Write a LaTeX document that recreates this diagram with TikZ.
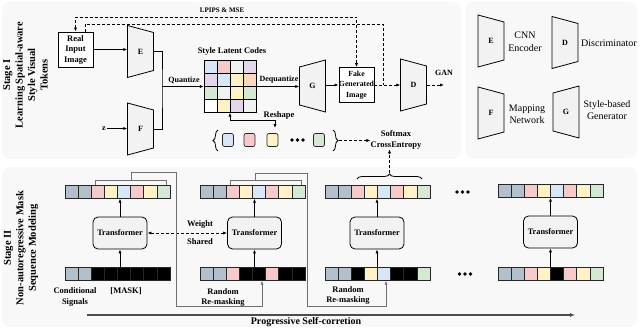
\documentclass[tikz,border=0pt]{standalone}
\usepackage{fontspec}
\setmainfont{Liberation Serif}
\usetikzlibrary{arrows.meta,decorations.pathreplacing,calc}
\definecolor{panelc}{HTML}{F8F8F8}
\definecolor{trapc}{HTML}{F2F2F2}
\definecolor{gb}{HTML}{B3BFCB}
\definecolor{pk}{HTML}{F6CACA}
\definecolor{yl}{HTML}{FFF1C8}
\definecolor{bl}{HTML}{D8E7F8}
\definecolor{gr}{HTML}{D5E8D4}
\definecolor{pu}{HTML}{E3D6EB}
\definecolor{pe}{HTML}{F9D8BE}
\definecolor{lg}{HTML}{F1F1F1}
\definecolor{wh}{HTML}{FFFFFF}
\definecolor{bk}{HTML}{000000}
\definecolor{lineg}{HTML}{707070}
\newcommand\trapTL[4]{%
  \filldraw[trapsty] ({#2-13},{#3-26}) -- ({#2+13},{#3-19}) -- ({#2+13},{#3+19}) -- ({#2-13},{#3+26}) -- cycle;
  \node[trapnode] (#1) at (#2,#3) {#4};}
\newcommand\trapTR[4]{%
  \filldraw[trapsty] ({#2-13},{#3-19}) -- ({#2+13},{#3-26}) -- ({#2+13},{#3+26}) -- ({#2-13},{#3+19}) -- cycle;
  \node[trapnode] (#1) at (#2,#3) {#4};}
\newcommand\tokrow[4]{%
  \node[rowbox] (#1) at (#2,#3) {};
  \foreach \cc [count=\i from 0] in {#4}{\filldraw[cellsty, fill=\cc] ({#2-52.5+13.125*\i},{#3-6.5}) rectangle ++(13.125,13);}}
\begin{document}
\begin{tikzpicture}[x=1pt,y=-1pt,
  panel/.style={fill=panelc, draw=none, rounded corners=8pt},
  trapsty/.style={fill=trapc, draw=black, line width=0.8pt},
  trapnode/.style={minimum width=26pt, minimum height=38pt, inner sep=0pt, font=\fontsize{8}{9}\selectfont\bfseries},
  lbl/.style={font=\fontsize{8.5}{10.5}\selectfont\bfseries, inner sep=0pt, align=center},
  slbl/.style={font=\fontsize{7}{8}\selectfont\bfseries, inner sep=0pt},
  stagelbl/.style={font=\fontsize{10.5}{12.5}\selectfont\bfseries, rotate=90, align=center, inner sep=0pt},
  legtxt/.style={font=\fontsize{10}{12.5}\selectfont, align=center, inner sep=0pt},
  imgbox/.style={draw, fill=white, line width=0.8pt, minimum width=35pt, minimum height=35pt, inner sep=0pt, align=center, font=\fontsize{7.8}{10.5}\selectfont\bfseries},
  tfbox/.style={draw, line width=0.8pt, rounded corners=5pt, fill=trapc, minimum width=54pt, minimum height=32pt, inner sep=0pt, font=\fontsize{8.3}{9}\selectfont\bfseries},
  rowbox/.style={minimum width=105pt, minimum height=13pt, inner sep=0pt},
  cellsty/.style={draw=black!85, line width=0.7pt},
  arr/.style={-{Latex[length=4pt,width=3.2pt]}, line width=0.8pt},
  darr/.style={arr, dash pattern=on 3pt off 2pt},
  dline/.style={line width=0.8pt, dash pattern=on 3pt off 2pt},
  gline/.style={draw=lineg, line width=0.7pt},
  garr/.style={gline, -{Latex[length=4pt,width=3.2pt]}},
  brc/.style={decorate, line width=0.8pt},
  parr/.style={draw=black!70, line width=1.5pt, -{Latex[length=5pt,width=4pt]}}
]
\useasboundingbox (0,0) rectangle (640,329);
% panels
\fill[panel] (2,2) rectangle (461,159);
\fill[panel] (465,2) rectangle (637,158);
\fill[panel] (2,167) rectangle (637,327);

% ---------- Stage I ----------
\node[stagelbl] (s1) at (25.5,75) {Stage I\\Learning Spatial-aware\\Style Visual\\Tokens};
\node[imgbox, font=\fontsize{8.5}{10.5}\selectfont\bfseries] (real) at (75.5,49.5) {Real\\Input\\Image};
\trapTL{E}{140.5}{51.5}{E}
\trapTL{F}{140.5}{129}{F}
\node[font=\fontsize{8}{9}\selectfont\bfseries, inner sep=1pt] (z) at (104,128.5) {z};
\draw[arr] (real.east) -- (real.east -| E.west);
\draw[arr] (z.east) -- (z.east -| F.west);
\coordinate (jn) at (162,86.5);
\draw[line width=0.8pt] (E.east) -| (jn) |- (F.east);
% grid
\node[minimum size=52pt, inner sep=0pt] (grid) at (230,86.5) {};
\foreach \cc [count=\i from 0] in {bl,pk,lg,pu, pu,bl,yl,pe, gr,lg,yl,gr, wh,yl,pu,lg} {
  \pgfmathtruncatemacro\rr{int(\i/4)}
  \pgfmathtruncatemacro\kk{mod(\i,4)}
  \filldraw[draw=black, line width=0.8pt, fill=\cc] ({204+13*\kk},{60.5+13*\rr}) rectangle ++(13,13);
}
\node[lbl] (slc) at (232,51) {Style Latent Codes};
\draw[arr] (jn) -- (jn -| grid.west);
\node[lbl, font=\fontsize{8}{9}\selectfont\bfseries] (qz) at (184,80) {Quantize};
\trapTR{G}{312.5}{86}{G}
\draw[arr] (grid.east) -- (grid.east -| G.west);
\node[lbl, font=\fontsize{8}{9}\selectfont\bfseries] (dqz) at (279,80) {Dequantize};
\node[imgbox] (fake) at (356.5,85) {Fake\\Generated\\Image};
\draw[arr] (G.east |- fake.west) -- (fake.west);
\trapTL{D}{413.5}{85}{D}
\draw[darr] (fake.east) -- (D.west);
\coordinate (gan) at (444,85);
\draw[darr] (D.east) -- (gan);
\node[lbl, font=\fontsize{8}{9}\selectfont\bfseries] (ganl) at (444,73) {GAN};
% LPIPS
\coordinate (lpo) at (0,17);
\coordinate (lpi) at (0,24);
\coordinate (dj) at (383,85);
\draw[dline, {Latex[length=4pt,width=3.2pt]}-{Latex[length=4pt,width=3.2pt]}] (real.north) -- (real.north |- lpo) -| (fake.north);
\draw[dline] ([xshift=9.5pt]real.north) -- ([xshift=9.5pt]real.north |- lpi) -| (dj);
\node[slbl] (lp) at (222,10) {LPIPS \& MSE};
% reshape
\coordinate (rsE) at (275,128);
\draw[line width=0.8pt, {Latex[length=4pt,width=3.2pt]}-{Latex[length=4pt,width=3.2pt]}] (grid.south) -- (230,120) -- (275,120) -- (rsE);
\node[lbl] (rsl) at (279,115) {Reshape};
% sequence
\draw[brc, decoration={brace, amplitude=5pt}] (218,151) -- (218,130);
\filldraw[cellsty, fill=bl, rounded corners=2pt] (222.5,133.5) rectangle ++(11,13);
\filldraw[cellsty, fill=pk, rounded corners=2pt] (244,133.5) rectangle ++(11,13);
\filldraw[cellsty, fill=yl, rounded corners=2pt] (267,133.5) rectangle ++(11,13);
\foreach \xx in {292,297.5,303} \fill (\xx,140) circle (1.8pt);
\filldraw[cellsty, fill=gr, rounded corners=2pt] (313.5,133.5) rectangle ++(11,13);
\draw[brc, decoration={brace, amplitude=5pt}] (333,130) -- (333,151);
\coordinate (rb) at (339,140.5);
\node[lbl] (ce) at (396,140) {Softmax\\CrossEntropy};
\draw[darr] (rb) -- (rb -| ce.west);

% ---------- Legend ----------
\trapTL{LE}{491}{41}{E}
\node[legtxt] (le) at (525,41.5) {CNN\\Encoder};
\trapTL{LD}{565}{42.5}{D}
\node[legtxt] (ld) at (609,43) {Discriminator};
\trapTL{LF}{491}{113}{F}
\node[legtxt] (lf) at (527,114) {Mapping\\Network};
\trapTR{LG}{566}{112}{G}
\node[legtxt] (lgn) at (607,110) {Style-based\\Generator};

% ---------- Stage II ----------
\node[stagelbl] (s2) at (21,248) {Stage II\\Non-autoregressive Mask\\Sequence Modeling};
\tokrow{r1t}{117.5}{192}{gb,gb,pk,yl,bl,pk,yl,gr}
\tokrow{r1b}{117.5}{274}{gb,gb,bk,bk,bk,bk,bk,bk}
\tokrow{r2t}{252.5}{192}{gb,gb,pk,yl,bl,pk,yl,gr}
\tokrow{r2b}{252.5}{274}{gb,gb,pk,bk,bk,pk,bk,bk}
\tokrow{r3t}{377.5}{192}{gb,gb,pk,yl,bl,pk,yl,gr}
\tokrow{r3b}{377.5}{274}{gb,gb,bk,yl,bl,bk,bk,gr}
\tokrow{r4t}{550.5}{191}{gb,gb,pk,yl,bl,pk,yl,gr}
\tokrow{r4b}{550.5}{274}{gb,gb,pk,yl,bk,pk,yl,gr}
\node[tfbox] (t1) at (120,233) {Transformer};
\node[tfbox] (t2) at (254.5,233) {Transformer};
\node[tfbox] (t3) at (377,233) {Transformer};
\node[tfbox] (t4) at (550.5,232) {Transformer};
\foreach \k in {1,2,3,4}{
  \draw[arr] (t\k.north) -- (t\k.north |- r\k t.south);
  \draw[arr] (t\k.south |- r\k b.north) -- (t\k.south);
}
\draw[dline, {Latex[length=4pt,width=3.2pt]}-{Latex[length=4pt,width=3.2pt]}] (t1.east) -- (t2.west);
\node[lbl] (wt) at (200,224) {Weight};
\node[lbl] (sh) at (200,242) {Shared};
\node[lbl] (cs) at (75,297) {Conditional\\Signals};
\node[lbl] (mk) at (126,291) {[MASK]};
\node[lbl] (rm2) at (223,297.5) {Random\\Re-masking};
\node[lbl] (rm3) at (348,295.5) {Random\\Re-masking};
% brackets
\draw[gline] (95,185) -- (95,180) -- (166,180) -- (166,185);
\draw[gline] (230.5,185) -- (230.5,180) -- (301,180) -- (301,185);
\coordinate (b1) at (131,180);
\coordinate (b2) at (255,180);
\draw[garr] (b1) -- (131,172) -- (176,172) -- (176,306) -- (262,306) -- ([xshift=9.5pt]r2b.south);
\draw[garr] (b2) -- (255,173) -- (307,173) -- (307,306) -- (386,306) -- ([xshift=8.5pt]r3b.south);
\draw[brc, decoration={brace, amplitude=5pt}] (357,179) -- (422,179);
\coordinate (b3) at (389.5,173);
\draw[darr] (b3) -- (b3 |- ce.south);
% dots
\foreach \xx in {457,462.5,468} \fill (\xx,192) circle (1.8pt);
\foreach \xx in {459.5,465,470.5} \fill (\xx,274) circle (1.8pt);
% progressive
\coordinate (ps) at (87,315);
\coordinate (pe) at (575,315);
\draw[parr] (ps) -- (pe);
\node[lbl, font=\fontsize{10}{11}\selectfont\bfseries] (pl) at (306,322.5) {Progressive Self-corretion};
\end{tikzpicture}
\end{document}
